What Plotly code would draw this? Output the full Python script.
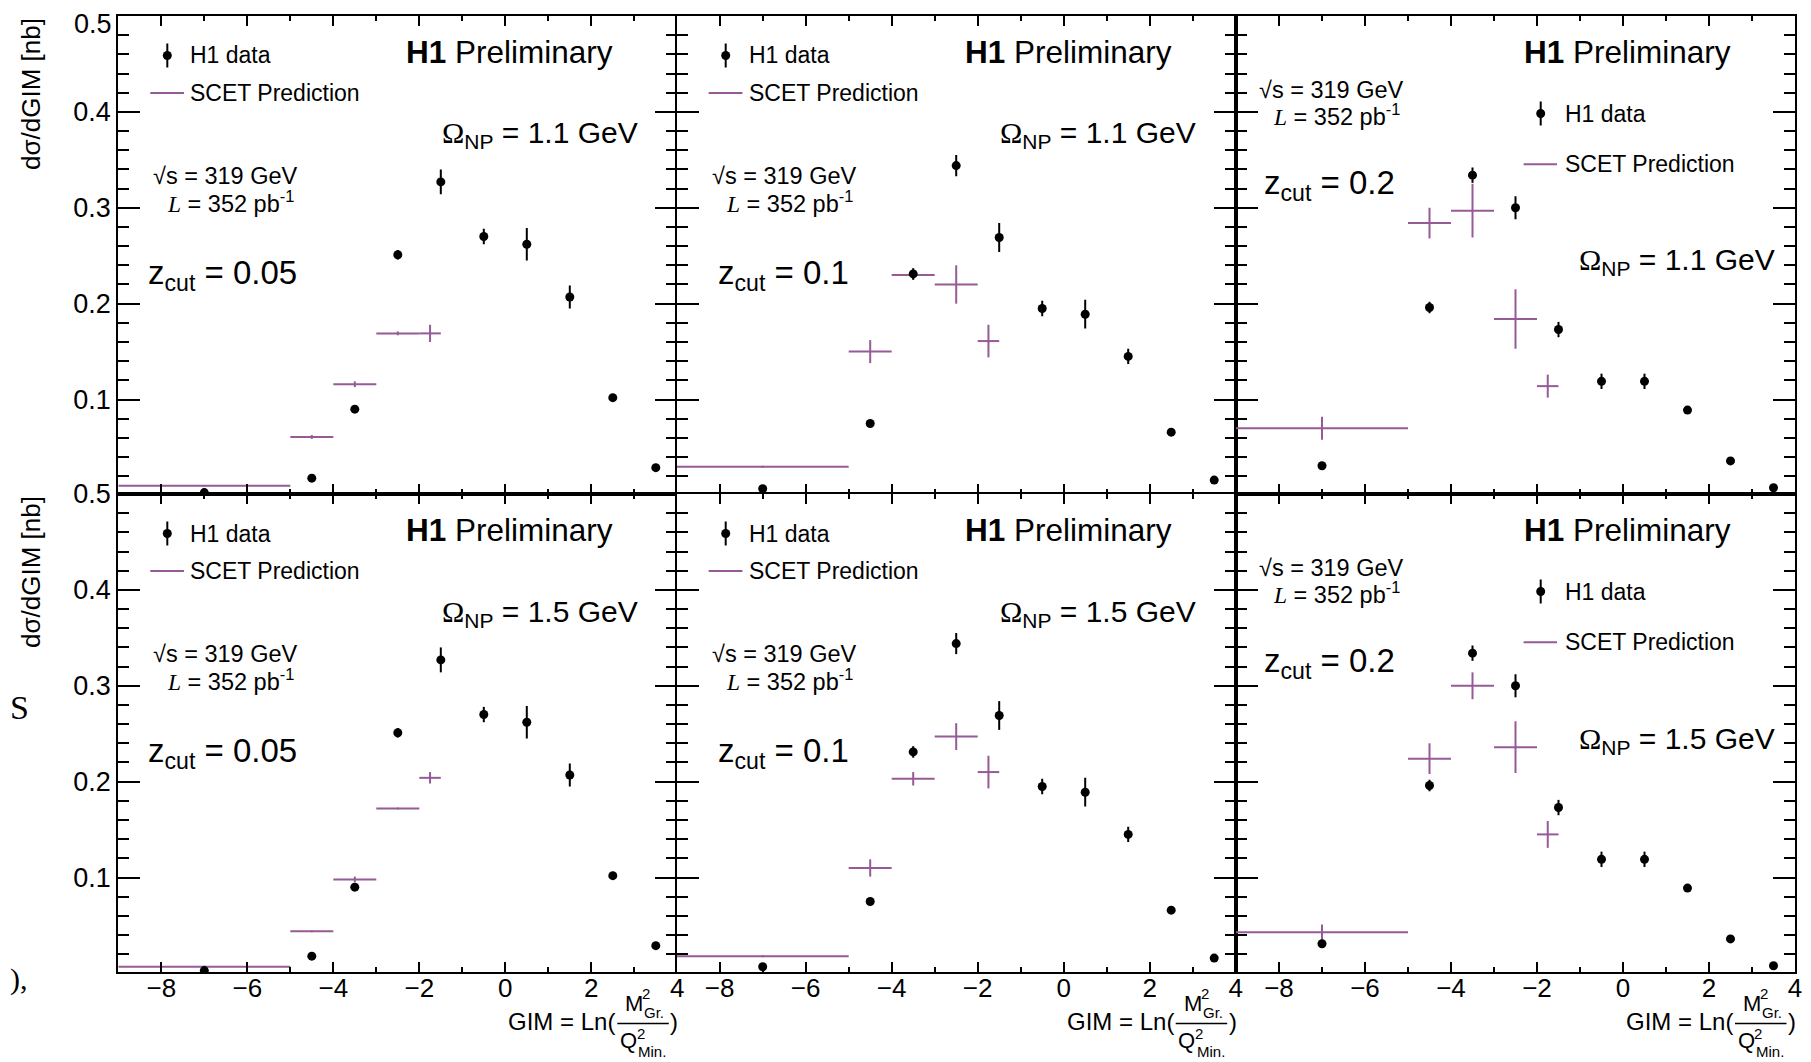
import plotly.graph_objects as go

# ---------------- data ----------------
gim_edges = [-9, -5, -4, -3, -2, -1, 0, 1, 2, 3, 4]

h1_zcut005 = [0.003, 0.018, 0.090, 0.251, 0.327, 0.270, 0.262, 0.207, 0.102, 0.029]
h1_zcut005_err = [0.001, 0.002, 0.003, 0.005, 0.013, 0.008, 0.017, 0.012, 0.003, 0.002]
h1_zcut01 = [0.007, 0.075, 0.231, 0.344, 0.269, 0.195, 0.189, 0.145, 0.066, 0.016]
h1_zcut01_err = [0.001, 0.003, 0.006, 0.011, 0.015, 0.008, 0.015, 0.008, 0.003, 0.002]
h1_zcut02 = [0.031, 0.196, 0.334, 0.300, 0.173, 0.119, 0.119, 0.089, 0.036, 0.008]
h1_zcut02_err = [0.002, 0.006, 0.008, 0.012, 0.008, 0.008, 0.008, 0.004, 0.003, 0.002]

scet_lo = [-9, -5, -4, -3, -2]
scet_hi = [-5, -4, -3, -2, -1.5]
scet_om11_z005 = [0.010, 0.061, 0.116, 0.169, 0.169]
scet_om11_z005_err = [0.001, 0.002, 0.003, 0.002, 0.009]
scet_om11_z01 = [0.030, 0.150, 0.230, 0.220, 0.161]
scet_om11_z01_err = [0.001, 0.012, 0.005, 0.020, 0.017]
scet_om11_z02 = [0.070, 0.284, 0.297, 0.184, 0.114]
scet_om11_z02_err = [0.012, 0.016, 0.028, 0.031, 0.012]
scet_om15_z005 = [0.007, 0.044, 0.098, 0.172, 0.204]
scet_om15_z005_err = [0.001, 0.001, 0.003, 0.001, 0.006]
scet_om15_z01 = [0.018, 0.110, 0.203, 0.247, 0.210]
scet_om15_z01_err = [0.001, 0.009, 0.007, 0.014, 0.017]
scet_om15_z02 = [0.043, 0.224, 0.300, 0.236, 0.145]
scet_om15_z02_err = [0.008, 0.016, 0.014, 0.027, 0.014]

zcut_labels = ["0.05", "0.1", "0.2"]
omega_labels = ["1.1", "1.5"]
x_ticks = [-8, -6, -4, -2, 0, 2, 4]
y_ticks = [0.1, 0.2, 0.3, 0.4, 0.5]
y_ticktext = ["0.1", "0.2", "0.3", "0.4", "0.5"]

h1_sets = [(h1_zcut005, h1_zcut005_err), (h1_zcut01, h1_zcut01_err), (h1_zcut02, h1_zcut02_err)]
scet_sets = [
    [(scet_om11_z005, scet_om11_z005_err), (scet_om11_z01, scet_om11_z01_err), (scet_om11_z02, scet_om11_z02_err)],
    [(scet_om15_z005, scet_om15_z005_err), (scet_om15_z01, scet_om15_z01_err), (scet_om15_z02, scet_om15_z02_err)],
]

# ---------------- layout geometry (page pixels) ----------------
PAGE_OFF = 8            # default body margin of the html page
W, H = 1811 - PAGE_OFF, 1062 - PAGE_OFF
COL_X0 = [118.3, 676.7, 1236.0]
PW = 559
ROW_Y0 = [16, 494]
PH = 478
FONT = "Liberation Sans, Arial, sans-serif"
SERIF = "Liberation Serif, Times New Roman, serif"
PURPLE = "rgb(150,90,150)"

h1_x = [(gim_edges[i] + gim_edges[i + 1]) / 2 for i in range(len(gim_edges) - 1)]
scet_x = [(a + b) / 2 for a, b in zip(scet_lo, scet_hi)]
scet_xerr = [(b - a) / 2 for a, b in zip(scet_lo, scet_hi)]


def px(x):
    return (x - PAGE_OFF) / W


def py(y):
    return 1 - (y - PAGE_OFF) / H


fig = go.Figure()
annotations = []
shapes = []
layout = {}


def ann(x, y, text, size, xanchor="left", yanchor="middle", family=FONT, **kw):
    annotations.append(dict(x=px(x), y=py(y), xref="paper", yref="paper", text=text,
                            showarrow=False, xanchor=xanchor, yanchor=yanchor,
                            font=dict(size=size, family=family, color="black"), **kw))


for r in range(2):
    for c in range(3):
        k = r * 3 + c + 1
        sfx = "" if k == 1 else str(k)
        x0, y0 = COL_X0[c], ROW_Y0[r]
        scet_v, scet_e = scet_sets[r][c]
        h1_v, h1_e = h1_sets[c]
        fig.add_trace(go.Scatter(
            x=scet_x, y=scet_v, mode="markers", xaxis="x" + sfx, yaxis="y" + sfx,
            marker=dict(size=0.1, color=PURPLE),
            error_x=dict(type="data", array=scet_xerr, color=PURPLE, thickness=2, width=0),
            error_y=dict(type="data", array=scet_e, color=PURPLE, thickness=2, width=0),
            showlegend=False, hoverinfo="skip"))
        fig.add_trace(go.Scatter(
            x=h1_x, y=h1_v, mode="markers", xaxis="x" + sfx, yaxis="y" + sfx,
            marker=dict(size=9, color="black"),
            error_y=dict(type="data", array=h1_e, color="black", thickness=2, width=0),
            showlegend=False, hoverinfo="skip"))

        # the top-left "0.5" sits at the page edge: drawn as a separate text below
        ttext = list(y_ticktext)
        if k == 1:
            ttext[-1] = ""

        layout["xaxis" + sfx] = dict(
            domain=[px(x0), px(x0 + PW)], anchor="y" + sfx, range=[-9, 4], automargin=False,
            tickmode="array", tickvals=x_ticks, ticks="inside", ticklen=10, tickwidth=1.5,
            tickcolor="black", showline=True, linewidth=2, linecolor="black", mirror="ticks",
            showgrid=False, zeroline=False, showticklabels=(r == 1), ticklabelstandoff=-8,
            ticklabeloverflow="allow",
            tickfont=dict(size=26, family=FONT, color="black"),
            minor=dict(dtick=1, tick0=0, ticks="inside", ticklen=5, tickwidth=1.5, tickcolor="black", showgrid=False))
        layout["yaxis" + sfx] = dict(
            domain=[py(y0 + PH), py(y0)], anchor="x" + sfx, range=[0.0015, 0.5], automargin=False,
            tickmode="array", tickvals=y_ticks, ticktext=ttext, ticks="inside", ticklen=22, tickwidth=1.5,
            tickcolor="black", showline=True, linewidth=2, linecolor="black", mirror="ticks",
            showgrid=False, zeroline=False, showticklabels=(c == 0), ticklabeloverflow="allow",
            tickfont=dict(size=27, family=FONT, color="black"),
            minor=dict(dtick=0.02, tick0=0, ticks="inside", ticklen=11, tickwidth=1.5, tickcolor="black", showgrid=False))

        # ---- panel texts ----
        ann(x0 + 286, y0 + 36, "<b>H1</b> Preliminary", 31.5)
        sqrt_txt = "√s = 319 GeV"
        L_txt = "<i><span style='font-family:Liberation Serif'>L</span></i> = 352 pb<sup>-1</sup>"
        zc_txt = "z<sub>cut</sub> = " + zcut_labels[c]
        om_txt = "<span style='font-family:Liberation Serif'>Ω</span><sub>NP</sub> = " + omega_labels[r] + " GeV"
        if c < 2:
            ann(x0 + 321.6, y0 + 119, om_txt, 30)
            ann(x0 + 33, y0 + 160, sqrt_txt, 23.5)
            ann(x0 + 46.9, y0 + 186, L_txt, 23.5)
            ann(x0 + (28 if c == 0 else 39), y0 + 259, zc_txt, 33)
            mx, my = x0 + 49, y0 + 39.5
            lx0, lx1, ly = x0 + 32, x0 + 65.7, y0 + 77
            tx = x0 + 70
        else:
            ann(x0 + 341, y0 + 246, om_txt, 30)
            ann(x0 + 21, y0 + 74, sqrt_txt, 23.5)
            ann(x0 + 35, y0 + 99, L_txt, 23.5)
            ann(x0 + 26, y0 + 169, zc_txt, 33)
            mx, my = x0 + 304.7, y0 + 97.5
            lx0, lx1, ly = x0 + 287.6, x0 + 321, y0 + 148.2
            tx = x0 + 327
        # legend
        ann(tx, my, "H1 data", 23)
        ann(tx, ly, "SCET Prediction", 23)
        shapes.append(dict(type="line", xref="paper", yref="paper", x0=px(mx), x1=px(mx),
                           y0=py(my - 12), y1=py(my + 12), line=dict(color="black", width=2)))
        shapes.append(dict(type="circle", xref="paper", yref="paper", x0=px(mx - 4.5), x1=px(mx + 4.5),
                           y0=py(my - 4.5), y1=py(my + 4.5), fillcolor="black", line=dict(color="black", width=0)))
        shapes.append(dict(type="line", xref="paper", yref="paper", x0=px(lx0), x1=px(lx1),
                           y0=py(ly), y1=py(ly), line=dict(color=PURPLE, width=2)))

        # ---- x-axis title (bottom row) ----
        if r == 1:
            xr = x0 + PW
            ann(xr - 60, 1021, "GIM = Ln(", 24, xanchor="right")
            ann(xr - 43, 1003, "M", 22, xanchor="center")
            ann(xr - 31, 993, "2", 15, xanchor="center")
            ann(xr - 35, 1012.5, "Gr.", 15)
            shapes.append(dict(type="line", xref="paper", yref="paper", x0=px(xr - 60), x1=px(xr - 8.5),
                               y0=py(1023.5), y1=py(1023.5), line=dict(color="black", width=1.5)))
            ann(xr - 49, 1040, "Q", 22, xanchor="center")
            ann(xr - 36.7, 1033, "2", 15, xanchor="center")
            ann(xr - 41, 1051, "Min.", 15)
            ann(xr - 9, 1021, ")", 24)

# top-left "0.5" tick label, kept inside the page
ann(113, 8, y_ticktext[-1], 27, xanchor="right", yanchor="top", borderpad=0)

# y-axis titles
for r in range(2):
    ann(31, ROW_Y0[r], "dσ/dGIM [nb]", 26, xanchor="center", yanchor="top", textangle=-90)

# stray text fragments at left edge of the source image
ann(8, 707, "S", 34, family=SERIF)
ann(8, 979, "),", 30, family=SERIF)

fig.update_layout(
    width=W, height=H, margin=dict(l=0, r=0, t=0, b=0, autoexpand=False),
    paper_bgcolor="white", plot_bgcolor="white",
    annotations=annotations, shapes=shapes, showlegend=False,
    font=dict(family=FONT, color="black"),
    **layout)

fig.write_html("out.html")
